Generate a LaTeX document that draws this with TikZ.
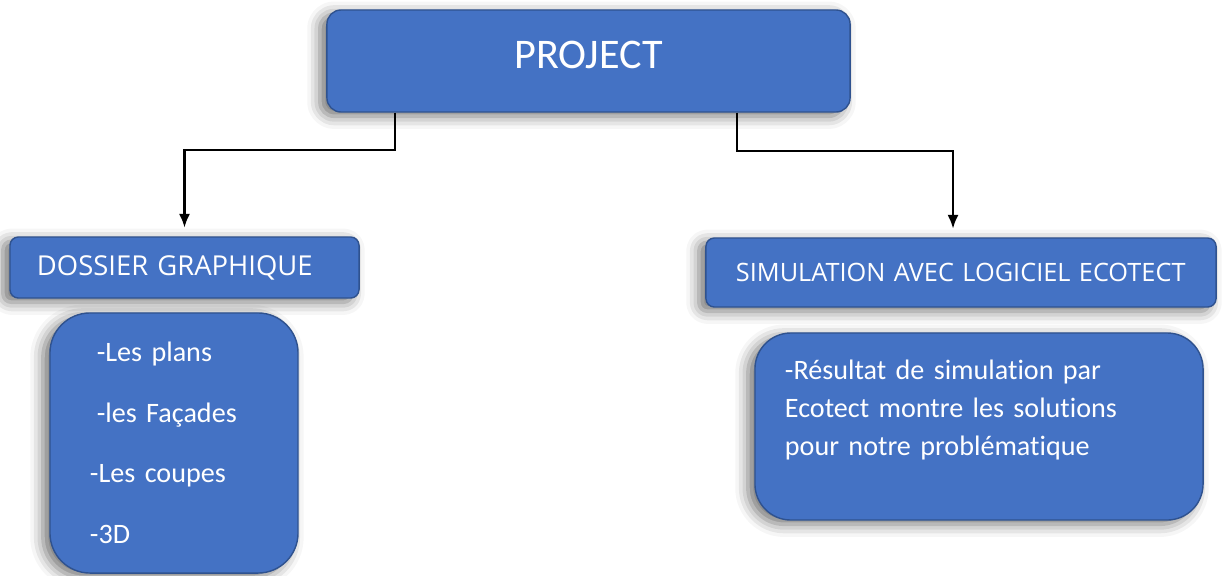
\documentclass[tikz,border=0pt]{standalone}
\usepackage{fontspec}
\setmainfont{Carlito}[Ligatures=NoCommon]
\newfontfamily\headfont{Open Sans}
\usetikzlibrary{shadows.blur,arrows.meta}
\definecolor{boxblue}{HTML}{4472C4}
\definecolor{boxline}{HTML}{2F528F}

\begin{document}
\begin{tikzpicture}[x=0.025cm,y=-0.025cm,
  box/.style={draw=boxline, line width=1pt, fill=boxblue, text=white,
    blur shadow={shadow xshift=-5pt, shadow yshift=-3pt, shadow blur radius=9pt, shadow opacity=55}},
  head/.style={box, rounded corners=6pt, align=left, font=\headfont\fontsize{18}{22}\selectfont},
  link/.style={line width=1.9pt, -{Latex[length=10pt,width=8pt]}, shorten >=6pt}]
\useasboundingbox (0,0) rectangle (1227,575);

\node[box, rounded corners=10pt, minimum width=13.075cm, minimum height=2.55cm, text depth=0.3cm,
  font=\fontsize{30}{36}\selectfont] (proj) at (588.5,61) {PROJECT};

\node[head, minimum height=1.525cm, inner xsep=0.675cm, text width=7.375cm,
  font=\headfont\fontsize{19.5}{23}\selectfont] (dos) at (184.5,267.5) {DOSSIER GRAPHIQUE};
\node[head, minimum height=1.725cm, inner xsep=0.75cm, text width=11.25cm] (sim) at (961,272.5) {SIMULATION AVEC LOGICIEL ECOTECT};

\node[box, rounded corners=1cm, minimum height=6.5cm, inner xsep=1cm, text width=4.2cm, align=left,
  font=\fontsize{20}{43}\selectfont] (liste) at (174,443)
  {\hspace{0.17cm}-Les plans\\ \hspace{0.17cm}-les Façades\\ -Les coupes\\ -3D};
\node[box, rounded corners=0.9cm, minimum height=4.675cm, inner xsep=0.75cm, text width=9.7cm, align=left,
  font=\fontsize{20}{27}\selectfont] (result) at (979,426.5)
  {-Résultat de simulation par\\ Ecotect montre les solutions\\ pour notre problématique\\ \mbox{}};

% connectors
\coordinate (lk) at (395,150);
\coordinate (rk) at (737,151);
\coordinate (rt) at (953,0);
\draw[link] (proj.south -| lk) -- (lk) -| (dos.north);
\draw[link] (proj.south -| rk) -- (rk) -| (sim.north -| rt);
\end{tikzpicture}
\end{document}
